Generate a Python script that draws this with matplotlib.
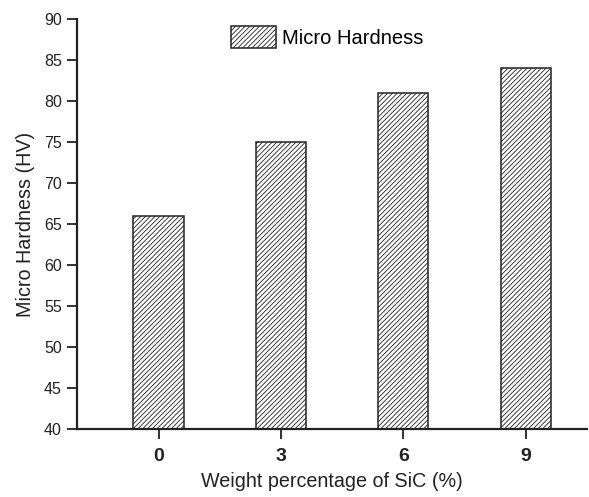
import numpy as np
import matplotlib.pyplot as plt

plt.rcParams['font.family'] = ['Liberation Sans', 'DejaVu Sans']
plt.rcParams['hatch.linewidth'] = 0.6
plt.rcParams['hatch.color'] = '#333333'

# datos
sic_pct = [0, 3, 6, 9]
hardness = [66, 75, 81, 84]
y_ticks = [40, 45, 50, 55, 60, 65, 70, 75, 80, 85, 90]

fig = plt.figure(figsize=(5.89, 4.97), dpi=100)
ax = fig.add_axes([0.1307, 0.1368, 0.8659, 0.825])

ax.bar(sic_pct, hardness, width=1.23, bottom=0, color='white',
       edgecolor='#222222', linewidth=1.1, hatch='///////', label='Micro Hardness')

ax.set_ylim(40, 90)
ax.set_xlim(-2.0, 10.5)
ax.set_yticks(y_ticks)
ax.set_xticks(sic_pct)
ax.set_xticklabels([str(v) for v in sic_pct], fontsize=14, fontweight='bold')
ax.tick_params(axis='y', labelsize=11.5, direction='out', length=7, width=1.3,
               colors='#222222', pad=4)
ax.tick_params(axis='x', direction='out', length=7, width=1.3, colors='#222222', pad=7)

for s in ['top', 'right']:
    ax.spines[s].set_visible(False)
for s in ['left', 'bottom']:
    ax.spines[s].set_linewidth(1.6)
    ax.spines[s].set_color('#222222')

ax.set_xlabel('Weight percentage of SiC (%)', fontsize=14.2, color='#222222', labelpad=5)
ax.set_ylabel('Micro Hardness (HV)', fontsize=14.2, color='#222222', labelpad=6)

leg = ax.legend(loc='upper left', bbox_to_anchor=(231 / 589, 1 - 26 / 497),
                bbox_transform=fig.transFigure, frameon=False, borderpad=0,
                borderaxespad=0, fontsize=14.5, handlelength=2.25, handleheight=1.3,
                handletextpad=0.3)

fig.savefig('out.png', dpi=100)
